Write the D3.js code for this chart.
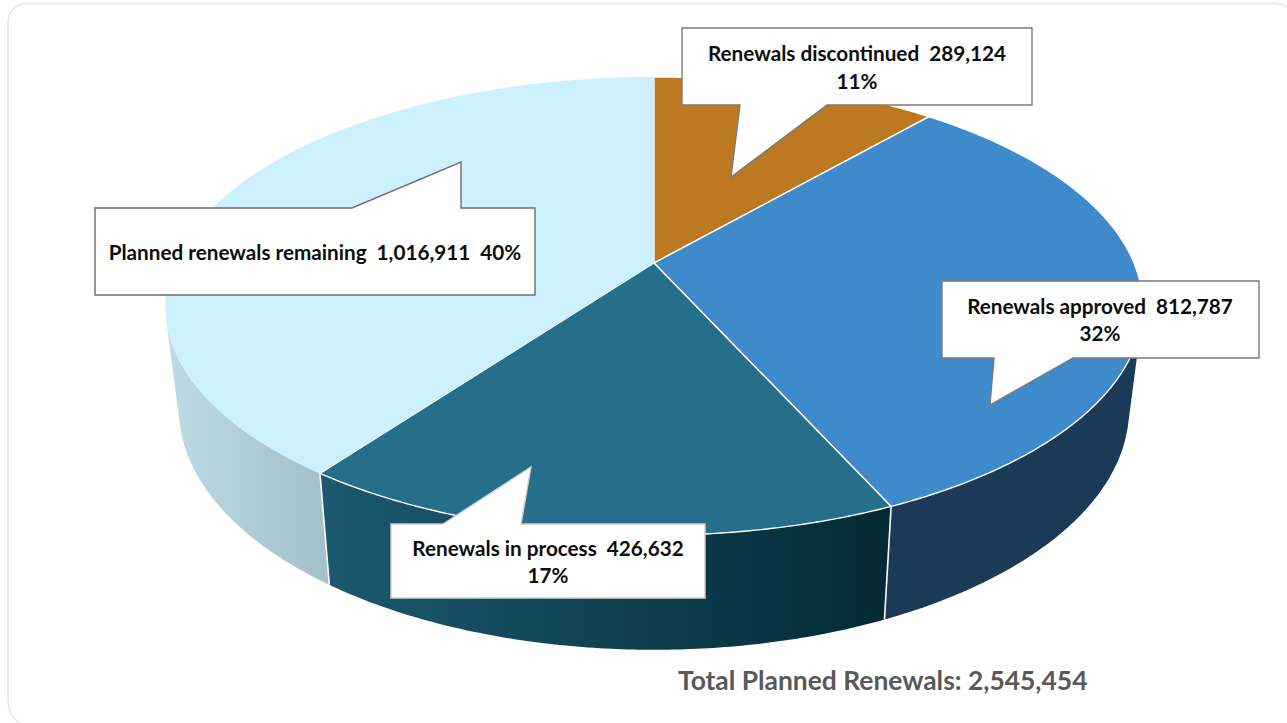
<!DOCTYPE html>
<html>
<head>
<meta charset="utf-8"/>
<title>Total Planned Renewals</title>
<style>
html, body { margin: 0; padding: 0; background: #ffffff; overflow: hidden; }
svg { display: block; }
text { font-family: Lato, "Open Sans", sans-serif; font-weight: 700; white-space: pre; }
.callout text { font-size: 20.7px; fill: #0d0d0d; text-anchor: middle; }
.total { font-size: 26.4px; fill: #595959; }
</style>
</head>
<body>
<script src="https://d3js.org/d3.v7.min.js"></script>
<script>
'use strict';
// values
const categories = ['Renewals discontinued', 'Renewals approved', 'Renewals in process', 'Planned renewals remaining'];
const renewals = [289124, 812787, 426632, 1016911];
const topColors = ['#bd7921', '#3f8acb', '#256f8a', '#cdf1fc'];

const width = 1287, height = 723;
const fmt = d3.format(',');
const pct = d3.format('.0%');
const total = d3.sum(renewals);

const svg = d3.select('body').append('svg')
	.attr('width', width)
	.attr('height', height);

// card edge, only top and left show
svg.append('path')
	.attr('d', 'M20,723Q8,716 8,698V24Q8,3.5 30,3.5H1275Q1282,3.5 1287,7')
	.attr('fill', 'none')
	.attr('stroke', '#e6e6e6')
	.attr('stroke-width', 1.6);

// tilted disc: the apex sits above the ellipse centre, so use a perspective map
const cx = 654, cy = 263;
const persp = 0.188, scaleX = 480, scaleY = 221;

// a runs clockwise from the back of the disc, v is positive toward the viewer
function rimTop(a) {
	const u = Math.sin(a), v = -Math.cos(a);
	const w = 1 - persp * v;
	return [cx + scaleX * u / w, cy + scaleY * v / w];
}

function rimBottom(a) {
	const p = rimTop(a);
	return [cx + (p[0] - cx) * 0.972, cy + (p[1] - cy) * 1.05 + 101];
}

const pie = d3.pie().sort(null).startAngle(0).endAngle(2 * Math.PI);
const arcs = pie(renewals);

function samples(a0, a1) {
	const n = Math.max(2, Math.ceil((a1 - a0) / 0.01));
	return d3.range(n + 1).map(i => a0 + (a1 - a0) * i / n);
}

const line = d3.line();

// side wall, a run of quads that face the viewer
function wallPath(d) {
	const as = samples(d.startAngle, d.endAngle);
	let out = '';
	for (let i = 0; i < as.length - 1; i++) {
		const q = [rimTop(as[i]), rimTop(as[i + 1]), rimBottom(as[i + 1]), rimBottom(as[i])];
		if (d3.polygonArea(q) > 0) out += line(q) + 'Z';
	}
	return out;
}

// gradients for the walls
const defs = svg.append('defs');
const wallGrads = [
	['wall0', '#bd7921', '#bd7921', 654, 930],
	['wall1', '#1b3a56', '#1b3a56', 885, 1135],
	['wall2', '#1c586e', '#042a35', 330, 885],
	['wall3', '#bcdbe5', '#a3bfc8', 170, 330]
];
wallGrads.forEach(g => {
	const lg = defs.append('linearGradient')
		.attr('id', g[0])
		.attr('gradientUnits', 'userSpaceOnUse')
		.attr('x1', g[3]).attr('x2', g[4])
		.attr('y1', 0).attr('y2', 0);
	lg.append('stop').attr('offset', 0).attr('stop-color', g[1]);
	lg.append('stop').attr('offset', 1).attr('stop-color', g[2]);
});

svg.append('g').selectAll('path')
	.data(arcs)
	.join('path')
	.attr('d', wallPath)
	.attr('fill', (d, i) => 'url(#wall' + i + ')');

// wall seams
svg.append('g').selectAll('path')
	.data(arcs.slice(1, 3))
	.join('path')
	.attr('d', d => line([rimTop(d.endAngle), rimBottom(d.endAngle)]))
	.attr('stroke', '#ffffff')
	.attr('stroke-width', 1.6)
	.attr('fill', 'none');

// top faces
svg.append('g').selectAll('path')
	.data(arcs)
	.join('path')
	.attr('d', d => line([[cx, cy]].concat(samples(d.startAngle, d.endAngle).map(rimTop))) + 'Z')
	.attr('fill', (d, i) => topColors[i])
	.attr('stroke', (d, i) => i === 3 ? 'none' : '#ffffff')
	.attr('stroke-width', 1.4)
	.attr('stroke-linejoin', 'round');

// callouts, outline runs round the box and its pointer
const calloutLayout = [
	{outline: [[682, 28], [1032, 28], [1032, 105], [827, 105], [731, 177], [740, 105], [682, 105]], x: 857, y: [61, 89], stroke: '#7a7a7a'},
	{outline: [[942, 281], [1259, 281], [1259, 358], [1073, 358], [990, 405], [994, 358], [942, 358]], x: 1100, y: [314, 341], stroke: '#7a7a7a'},
	{outline: [[391, 524], [443, 524], [531, 467], [521, 524], [705, 524], [705, 598], [391, 598]], x: 548, y: [556, 583], stroke: '#d0d0d0'},
	{outline: [[95, 208], [352, 208], [461, 162], [461, 208], [535, 208], [535, 295], [95, 295]], x: 315, y: [260], stroke: '#6e6e6e'}
];

const callouts = svg.append('g').attr('class', 'callout').selectAll('g')
	.data(arcs)
	.join('g');

callouts.append('path')
	.attr('d', (d, i) => line(calloutLayout[i].outline) + 'Z')
	.attr('fill', '#ffffff')
	.attr('stroke', (d, i) => calloutLayout[i].stroke)
	.attr('stroke-width', 1.4);

callouts.each(function(d, i) {
	const l = calloutLayout[i];
	const head = categories[i] + '  ' + fmt(renewals[i]);
	const p = pct(renewals[i] / total);
	const lines = l.y.length === 2 ? [head, p] : [head + '  ' + p];
	d3.select(this).selectAll('text')
		.data(lines)
		.join('text')
		.attr('x', l.x)
		.attr('y', (t, j) => l.y[j])
		.text(t => t);
});

svg.append('text')
	.attr('class', 'total')
	.attr('x', 678)
	.attr('y', 690)
	.text('Total Planned Renewals: ' + fmt(total));
</script>
</body>
</html>
